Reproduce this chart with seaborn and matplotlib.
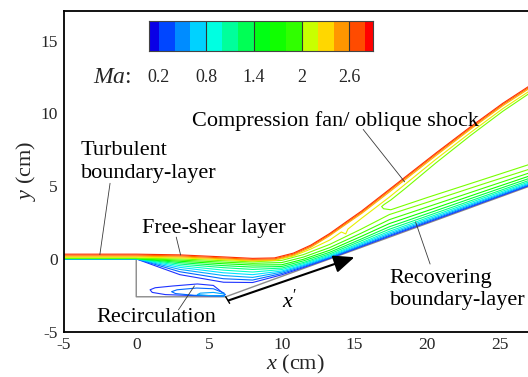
import numpy as np
import pandas as pd
import matplotlib
matplotlib.use("Agg")
import matplotlib.pyplot as plt
from matplotlib.ticker import MultipleLocator, FixedLocator
import matplotlib.transforms as mtransforms
import seaborn as sns

# ---------------- data ----------------
WALL_X = [-5, 0, 0, 6.15, 27.5]
WALL_Y = [0, 0, -2.6, -2.6, 5.17]

# boundary-layer / free-shear-layer Mach contour lines (levels 0.2 .. 2.0)
BL_X = [-5, 0, 3, 6, 8, 10, 11.5, 13.3, 15.4, 17.4, 20, 24, 27.5]
M02_Y = [0.0, 0.0, -1.08, -1.60, -1.62, -1.09, -0.59, 0.04, 0.82, 1.56, 2.50, 3.95, 5.22]
M04_Y = [0.005, 0.005, -0.88, -1.36, -1.45, -1.00, -0.53, 0.08, 0.87, 1.62, 2.56, 4.00, 5.26]
M06_Y = [0.01, 0.01, -0.72, -1.14, -1.27, -0.91, -0.46, 0.13, 0.93, 1.70, 2.63, 4.07, 5.32]
M08_Y = [0.015, 0.015, -0.58, -0.95, -1.08, -0.83, -0.40, 0.19, 1.01, 1.79, 2.72, 4.14, 5.39]
M10_Y = [0.02, 0.02, -0.46, -0.77, -0.90, -0.73, -0.32, 0.26, 1.09, 1.90, 2.82, 4.24, 5.47]
M12_Y = [0.025, 0.025, -0.35, -0.60, -0.72, -0.63, -0.24, 0.35, 1.21, 2.04, 2.95, 4.35, 5.57]
M14_Y = [0.03, 0.03, -0.25, -0.46, -0.56, -0.52, -0.13, 0.46, 1.34, 2.21, 3.11, 4.50, 5.70]
M16_Y = [0.035, 0.035, -0.16, -0.33, -0.42, -0.40, -0.02, 0.60, 1.52, 2.43, 3.31, 4.68, 5.86]
M18_Y = [0.04, 0.04, -0.08, -0.22, -0.30, -0.25, 0.13, 0.78, 1.74, 2.70, 3.57, 4.91, 6.07]
M20_Y = [0.05, 0.05, 0.0, -0.12, -0.20, -0.10, 0.30, 1.00, 2.02, 3.05, 3.89, 5.20, 6.32]

# shock / compression-fan contour lines (levels 2.2 .. 2.8)
SHOCK_X = [-5, 0, 3, 6, 8, 9.5, 10.8, 12, 13.3, 14.5, 15.5, 17.4, 20.6, 23, 25.2, 27.5]
M28_Y = [0.33, 0.33, 0.28, 0.14, 0.04, 0.07, 0.40, 0.95, 1.75, 2.60, 3.30, 4.78, 7.28, 9.10, 10.70, 12.20]
M26_Y = [0.26, 0.26, 0.21, 0.07, -0.03, 0.0, 0.33, 0.88, 1.68, 2.52, 3.22, 4.70, 7.20, 9.02, 10.62, 12.12]
M24_Y = [0.19, 0.19, 0.14, 0.01, -0.09, -0.06, 0.26, 0.80, 1.60, 2.44, 3.13, 4.60, 7.10, 8.93, 10.53, 12.03]
M22_X = [-5, 0, 3, 6, 8, 9.5, 10.8, 12, 13.3, 14.1, 14.4, 14.55, 15.5, 17.4, 20.6, 23, 25.2, 27.5]
M22_Y = [0.12, 0.12, 0.07, -0.05, -0.14, -0.10, 0.20, 0.68, 1.30, 1.85, 1.72, 2.05, 2.80, 4.25, 6.85, 8.70, 10.33, 11.85]

# level-2.0 tongue behind the shock
LOOP_X = [27.5, 25.2, 23, 20.6, 18.5, 17.5, 17.05, 16.87, 17.0, 17.5, 20.0, 23.5, 27.5]
LOOP_Y = [11.70, 10.15, 8.50, 6.60, 4.85, 4.05, 3.75, 3.60, 3.45, 3.38, 4.22, 5.35, 6.65]

# recirculation bubble contours
REC1_X = [6.1, 5.3, 4.2, 2.5, 1.3, 0.95, 1.1, 2.0, 4.0, 6.0, 6.1]
REC1_Y = [-2.45, -1.82, -1.72, -1.86, -1.98, -2.12, -2.30, -2.45, -2.52, -2.55, -2.45]
REC2_X = [6.05, 5.3, 4.15, 2.8, 2.43, 2.7, 4.0, 6.05]
REC2_Y = [-2.35, -2.05, -2.00, -2.12, -2.25, -2.38, -2.50, -2.53]
REC3_X = [6.1, 5.3, 4.4, 4.2, 5.0, 6.1]
REC3_Y = [-2.42, -2.30, -2.35, -2.45, -2.52, -2.55]

LEVEL_COLORS = {
    "0.2": "#1e32ff", "0.4": "#0068ff", "0.6": "#00a8ff", "0.8": "#00e2ff",
    "1.0": "#00ffc8", "1.2": "#00ff80", "1.4": "#00ff3c", "1.6": "#10ff00",
    "1.8": "#40ff00", "2.0": "#78ff00", "2.2": "#e6f000", "2.4": "#ffb400",
    "2.6": "#ff7000", "2.8": "#ff3000",
}

# legend (colour bar)
CB_EDGES = [0.083, 0.2, 0.4, 0.6, 0.8, 1.0, 1.2, 1.4, 1.6, 1.8, 2.0, 2.2, 2.4, 2.6, 2.8, 2.9]
CB_COLORS = ["#0a00e6", "#0046ff", "#008cff", "#00d2ff", "#00ffe1", "#00ff9b",
             "#00ff55", "#00ff14", "#10ff00", "#30ff00", "#c8ff00", "#ffd700",
             "#ff9600", "#ff4b00", "#ff0000"]
CB_TICKS = [0.2, 0.8, 1.4, 2.0, 2.6]
CB_LABELS = ["0.2", "0.8", "1.4", "2", "2.6"]

X_TICKS = [-5, 0, 5, 10, 15, 20, 25]
X_LABELS = ["-5", "0", "5", "10", "15", "20", "25"]
Y_TICKS = [-5, 0, 5, 10, 15]
Y_LABELS = ["-5", "0", "5", "10", "15"]

# ---------------- figure ----------------
sns.set_theme(style="white")
plt.rcParams["font.family"] = ["Liberation Serif", "DejaVu Serif"]
plt.rcParams["mathtext.fontset"] = "custom"
plt.rcParams["mathtext.rm"] = "Liberation Serif"
plt.rcParams["mathtext.it"] = "Liberation Serif:italic"

fig = plt.figure(figsize=(5.28, 3.77), dpi=100)
ax = fig.add_axes([63.5 / 528, 1 - 331.7 / 377, (528 - 63.5) / 528, 321 / 377])

# geometry
ax.plot(WALL_X, WALL_Y, color="#8a8a8a", lw=1.0, zorder=1)

# contour lines
series = [
    ("0.2", BL_X, M02_Y), ("0.4", BL_X, M04_Y), ("0.6", BL_X, M06_Y),
    ("0.8", BL_X, M08_Y), ("1.0", BL_X, M10_Y), ("1.2", BL_X, M12_Y),
    ("1.4", BL_X, M14_Y), ("1.6", BL_X, M16_Y), ("1.8", BL_X, M18_Y),
    ("2.0", BL_X, M20_Y), ("2.2", M22_X, M22_Y), ("2.4", SHOCK_X, M24_Y),
    ("2.6", SHOCK_X, M26_Y), ("2.8", SHOCK_X, M28_Y),
    ("2.0", LOOP_X, LOOP_Y), ("0.2", REC1_X, REC1_Y), ("0.4", REC2_X, REC2_Y),
    ("0.6", REC3_X, REC3_Y),
]
rows = []
for i, (lev, xs, ys) in enumerate(series):
    for xv, yv in zip(xs, ys):
        rows.append({"x": xv, "y": yv, "line": f"L{i:02d}", "level": lev})
df = pd.DataFrame(rows)
order = [f"L{i:02d}" for i in range(len(series))]
pal = {f"L{i:02d}": LEVEL_COLORS[s[0]] for i, s in enumerate(series)}
sns.lineplot(data=df, x="x", y="y", hue="line", hue_order=order, palette=pal,
             estimator=None, sort=False, legend=False, linewidth=0.8, ax=ax, zorder=2)

# axes limits / ticks
ax.set_xlim(-5, 26.93)
ax.set_ylim(-5, 17.06)
ax.xaxis.set_major_locator(FixedLocator(X_TICKS))
ax.yaxis.set_major_locator(FixedLocator(Y_TICKS))
ax.set_xticklabels(X_LABELS)
ax.set_yticklabels(Y_LABELS)
ax.xaxis.set_minor_locator(MultipleLocator(1))
ax.yaxis.set_minor_locator(MultipleLocator(1))
ax.tick_params(which="major", direction="in", length=6, width=1.2, color="black",
               labelsize=12.5, pad=4, top=False, right=False)
ax.tick_params(which="minor", direction="in", length=3.5, width=0.8, color="#666666",
               top=False, right=False)
for s in ["left", "bottom", "top"]:
    ax.spines[s].set_color("black")
    ax.spines[s].set_linewidth(1.3)
ax.spines["right"].set_visible(False)
ax.set_xlabel(r"$x$ (cm)", fontsize=16, labelpad=0)
ax.set_ylabel(r"$y$ (cm)", fontsize=16, labelpad=2)
ax.grid(False)

# annotations
TXT = dict(fontsize=16, color="black", va="baseline", ha="left")
ax.text(-3.82, 7.15, "Turbulent", **TXT)
ax.text(-3.82, 5.55, "boundary-layer", **TXT)
ax.text(0.37, 1.77, "Free-shear layer", **TXT)
ax.text(3.8, 9.15, "Compression fan/ oblique shock", **TXT)
ax.text(17.43, -1.67, "Recovering", **TXT)
ax.text(17.43, -3.16, "boundary-layer", **TXT)
ax.text(-2.77, -4.31, "Recirculation", **TXT)
ax.text(10.0, -3.35, r"$x'$", **TXT)

LC = dict(color="#3a3a3a", lw=0.6, zorder=3)
ax.plot([-1.8, -2.5], [5.2, 0.3], **LC)
ax.plot([2.75, 3.05], [1.5, 0.27], **LC)
ax.plot([15.6, 18.45], [8.9, 5.3], **LC)
ax.plot([19.2, 20.2], [2.55, -0.35], **LC)
ax.plot([2.9, 4.0], [-3.5, -1.85], **LC)

# x' arrow
ax.plot([6.15, 6.42], [-2.6, -3.05], color="black", lw=1.0, zorder=3)
ax.annotate("", xy=(15.0, 0.12), xytext=(6.35, -2.85),
            arrowprops=dict(arrowstyle="-|>,head_length=0.7,head_width=0.3",
                            color="black", lw=1.5, mutation_scale=18,
                            shrinkA=0, shrinkB=0), zorder=4)

# Mach legend
ax.text(-2.98, 12.08, r"$Ma$:", fontsize=17, va="baseline", ha="left")
cax = fig.add_axes([149.3 / 528, 1 - 50.7 / 377, 224 / 528, 29.7 / 377])
lefts = CB_EDGES[:-1]
widths = [b - a for a, b in zip(CB_EDGES[:-1], CB_EDGES[1:])]
cax.bar(lefts, [1] * len(lefts), width=widths, align="edge", color=CB_COLORS,
        edgecolor="none", linewidth=0)
for v in CB_TICKS[1:]:
    cax.axvline(v, color="#333333", lw=0.8)
cax.set_xlim(CB_EDGES[0], CB_EDGES[-1])
cax.set_ylim(0, 1)
cax.set_xticks([])
cax.set_yticks([])
for s in cax.spines.values():
    s.set_color("#444444")
    s.set_linewidth(0.8)
trans = mtransforms.blended_transform_factory(cax.transData, cax.transAxes)
for v, lab in zip(CB_TICKS, CB_LABELS):
    cax.text(v, -0.9, lab, transform=trans, ha="center", va="center", fontsize=13)

fig.savefig("out.png", dpi=100)
